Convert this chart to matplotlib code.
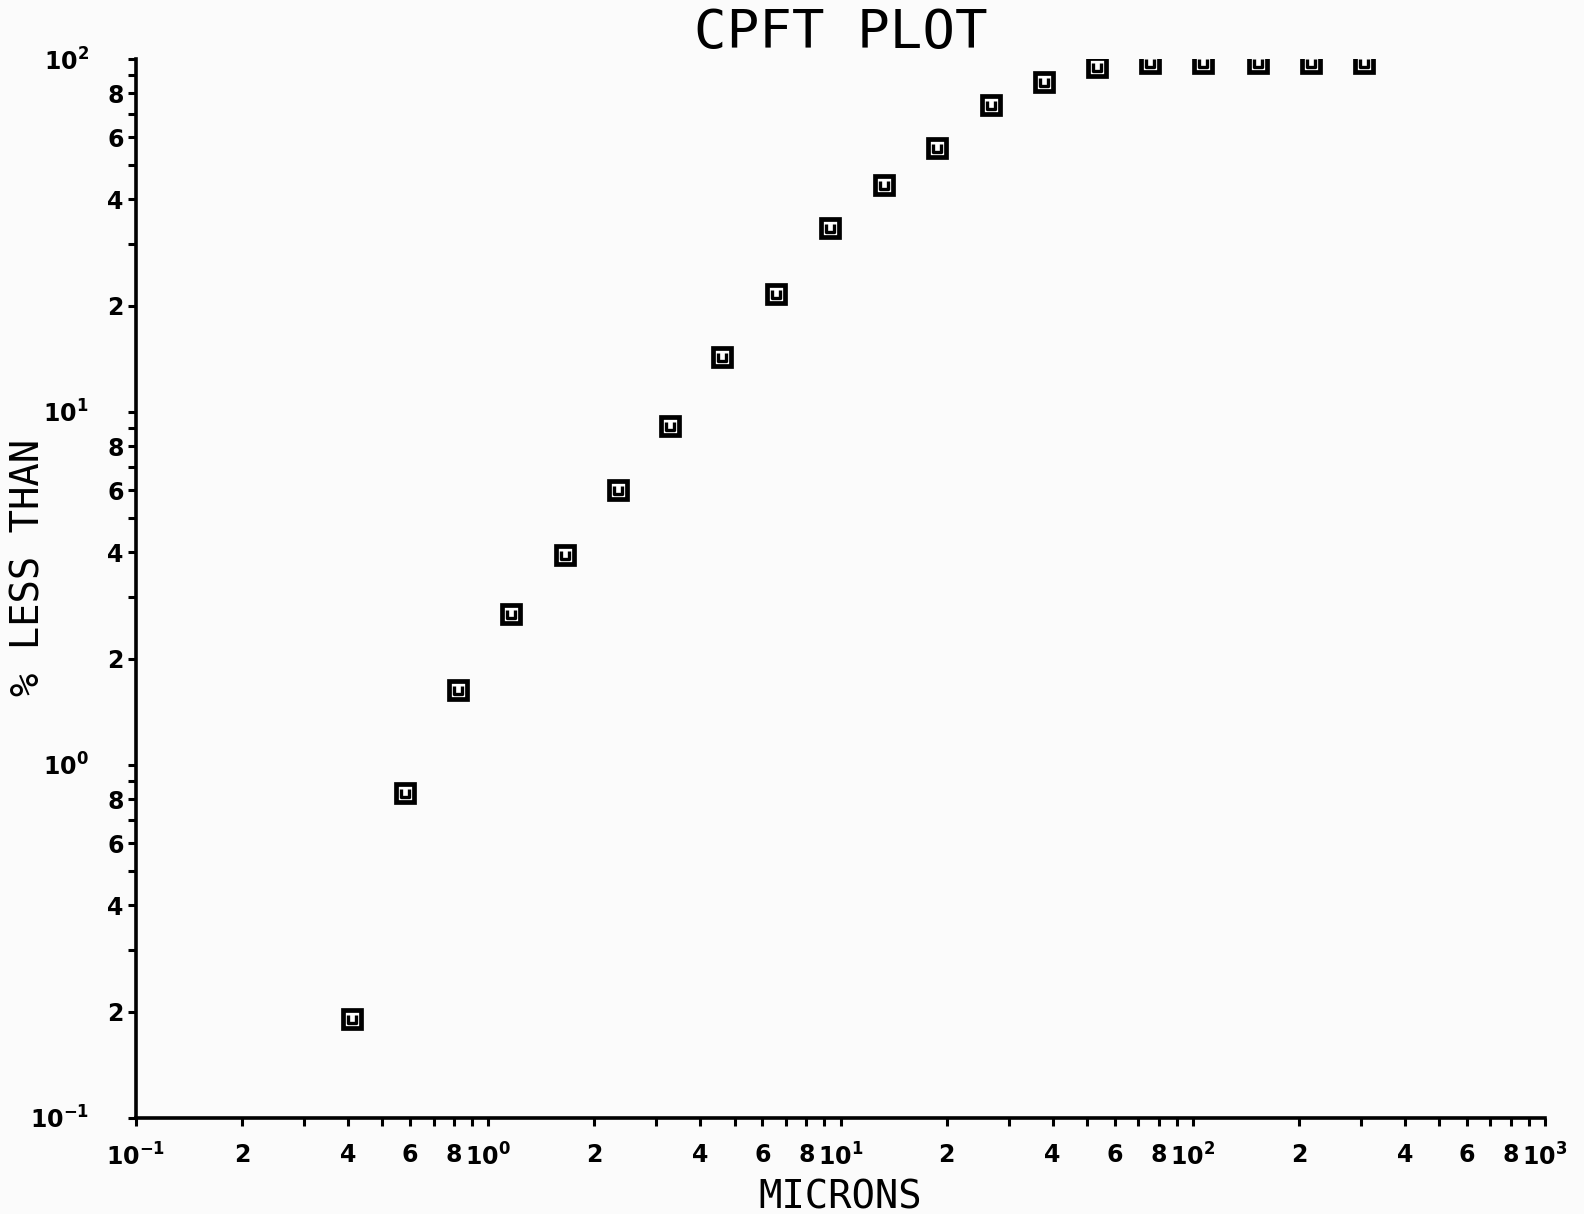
import matplotlib.pyplot as plt
import numpy as np
from matplotlib.path import Path
from matplotlib.ticker import FixedLocator, FixedFormatter

# valores (microns x % menor que)
microns = [0.41, 0.58, 0.82, 1.16, 1.65, 2.33, 3.27, 4.62, 6.56, 9.33,
           13.3, 18.8, 26.7, 37.8, 53.4, 75.7, 107, 153, 216, 306]
cpft = [0.191, 0.833, 1.63, 2.67, 3.94, 6.01, 9.11, 14.3, 21.6, 33.1,
        44.0, 56.1, 74.0, 86.1, 95.1, 97.7, 97.7, 97.7, 97.7, 97.7]

x_major = [0.1, 1, 10, 100, 1000]
x_major_lbl = [r'$\mathbf{10^{-1}}$', r'$\mathbf{10^{0}}$', r'$\mathbf{10^{1}}$',
               r'$\mathbf{10^{2}}$', r'$\mathbf{10^{3}}$']
y_major = [0.1, 1, 10, 100]
y_major_lbl = [r'$\mathbf{10^{-1}}$', r'$\mathbf{10^{0}}$', r'$\mathbf{10^{1}}$',
               r'$\mathbf{10^{2}}$']

fig = plt.figure(figsize=(15.84, 12.14), dpi=100)
fig.patch.set_facecolor('#fbfbfb')
ax = fig.add_axes([0.0859, 0.0791, 0.8895, 0.8723])
ax.set_facecolor('#fbfbfb')

ax.set_xscale('log')
ax.set_yscale('log')
ax.set_xlim(0.1, 1000)
ax.set_ylim(0.1, 100)

# marcador: quadrado com um "U" dentro
u_path = Path([(-0.45, 0.45), (-0.45, -0.45), (0.45, -0.45), (0.45, 0.45)],
              [Path.MOVETO, Path.LINETO, Path.LINETO, Path.LINETO])
ax.plot(microns, cpft, ls='none', marker='s', ms=12.5, mfc='white',
        mec='black', mew=3.4, zorder=3)
ax.plot(microns, cpft, ls='none', marker=u_path, ms=5.5, mfc='none',
        mec='black', mew=2.4, zorder=4)

for s in ['top', 'right']:
    ax.spines[s].set_visible(False)
for s in ['left', 'bottom']:
    ax.spines[s].set_linewidth(2.6)

# ticks menores 2..9, rotulos so em 2,4,6,8
def minor_ticks(lo, hi):
    t, l = [], []
    for d in range(lo, hi):
        for m in range(2, 10):
            t.append(m * 10.0 ** d)
            l.append(str(m) if m % 2 == 0 else '')
    return t, l

xt, xl = minor_ticks(-1, 3)
yt, yl = minor_ticks(-1, 2)

ax.xaxis.set_major_locator(FixedLocator(x_major))
ax.xaxis.set_major_formatter(FixedFormatter(x_major_lbl))
ax.xaxis.set_minor_locator(FixedLocator(xt))
ax.xaxis.set_minor_formatter(FixedFormatter(xl))
ax.yaxis.set_major_locator(FixedLocator(y_major))
ax.yaxis.set_major_formatter(FixedFormatter(y_major_lbl))
ax.yaxis.set_minor_locator(FixedLocator(yt))
ax.yaxis.set_minor_formatter(FixedFormatter(yl))

ax.tick_params(which='both', direction='out', length=6, width=2.2, colors='black')
ax.tick_params(axis='x', which='both', pad=12, labelsize=17)
ax.tick_params(axis='y', which='minor', pad=3, labelsize=17)
ax.tick_params(axis='y', which='major', pad=28, labelsize=17)
for lab in ax.get_xticklabels(which='both') + ax.get_yticklabels(which='both'):
    lab.set_fontweight('bold')

ax.set_title('CPFT PLOT', fontsize=39, family='DejaVu Sans Mono', pad=6)
ax.set_xlabel('MICRONS', fontsize=28, family='DejaVu Sans Mono', labelpad=6)
ax.set_ylabel('% LESS THAN', fontsize=28, family='DejaVu Sans Mono', va='center')
ax.yaxis.set_label_coords(-0.076, 0.52)

fig.savefig('out.png', dpi=100, facecolor=fig.get_facecolor())
